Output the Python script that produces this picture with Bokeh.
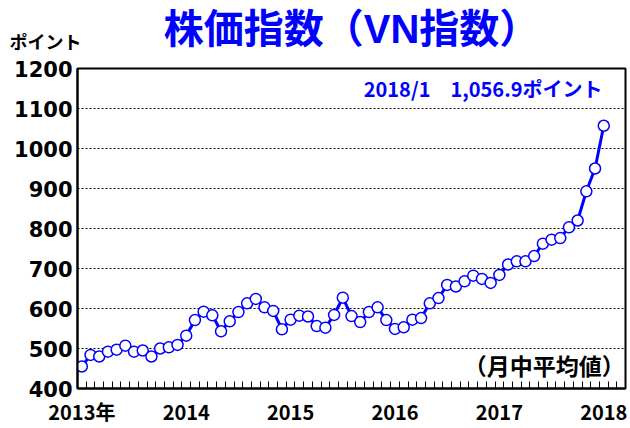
from bokeh.plotting import figure
from bokeh.models import Range1d, FixedTicker, Label, Title
from bokeh.embed import file_html
from bokeh.resources import INLINE

# ---- data (monthly averages, Jan 2013 .. Jan 2018) ----
vn_2013 = [455, 484, 480, 492, 497, 507, 492, 495, 480, 500, 503, 509]
vn_2014 = [532, 571, 592, 583, 543, 568, 591, 613, 624, 603, 594, 548]
vn_2015 = [572, 582, 580, 556, 552, 584, 627, 581, 566, 591, 603, 571]
vn_2016 = [549, 553, 572, 576, 613, 626, 659, 655, 668, 682, 674, 664]
vn_2017 = [684, 710, 718, 718, 731, 762, 772, 776, 803, 820, 893, 950]
latest_value = 1056.9
vn_2018 = [latest_value]
values = vn_2013 + vn_2014 + vn_2015 + vn_2016 + vn_2017 + vn_2018
month_index = list(range(len(values)))

year_positions = [0, 12, 24, 36, 48, 60]
year_labels = ["2013年", "2014", "2015", "2016", "2017", "2018"]
y_ticks = [400, 500, 600, 700, 800, 900, 1000, 1100, 1200]
grid_values = [500, 600, 700, 800, 900, 1000, 1100]
n_slots = 63

title_text = "株価指数（VN指数）"
unit_text = "ポイント"
note_text = "（月中平均値）"
latest_text = "2018/1　" + f"{latest_value:,.1f}" + "ポイント"

BLUE = "#0000ff"
JP = "Noto Sans CJK JP"
MIX = "Liberation Sans, Noto Sans CJK JP"
NUM = "DejaVu Sans"

p = figure(width=630, height=428, output_backend="svg", toolbar_location=None,
           x_range=Range1d(-0.5, n_slots - 0.5), y_range=Range1d(400, 1200),
           min_border_left=77, min_border_right=5, min_border_top=68, min_border_bottom=40)
p.background_fill_color = "white"
p.border_fill_color = "white"
p.outline_line_color = "black"
p.outline_line_width = 2
p.title.visible = False

p.xgrid.visible = False
p.ygrid.ticker = FixedTicker(ticks=grid_values)
p.ygrid.grid_line_color = "black"
p.ygrid.grid_line_dash = "2 2"
p.ygrid.grid_line_width = 1.2

ya = p.yaxis[0]
ya.ticker = FixedTicker(ticks=y_ticks)
ya.major_tick_line_color = None
ya.major_tick_out = 0
ya.minor_tick_line_color = None
ya.axis_line_color = "black"
ya.axis_line_width = 2
ya.major_label_standoff = 5
ya.major_label_text_font = NUM
ya.major_label_text_font_style = "bold"
ya.major_label_text_font_size = "21px"
ya.major_label_text_color = "black"

xa = p.xaxis[0]
xa.ticker = FixedTicker(ticks=year_positions, minor_ticks=[k + 0.5 for k in range(n_slots - 1)])
xa.major_label_overrides = {pos: lab for pos, lab in zip(year_positions, year_labels)}
xa.major_tick_line_color = None
xa.major_tick_out = 0
xa.major_tick_in = 0
xa.minor_tick_line_color = "black"
xa.minor_tick_line_width = 1
xa.minor_tick_in = 7
xa.minor_tick_out = 0
xa.axis_line_color = "black"
xa.axis_line_width = 2
xa.major_label_standoff = 8
xa.major_label_text_font = JP
xa.major_label_text_font_style = "bold"
xa.major_label_text_font_size = "20px"
xa.major_label_text_color = "black"

p.line(month_index, values, line_color=BLUE, line_width=3)
p.scatter(month_index, values, size=11, fill_color="white", line_color=BLUE, line_width=1.5)

# unit label (nearest the frame in the top panel), then the main title above it
p.add_layout(Label(x=45, y=42, x_units="canvas", y_units="canvas", text=unit_text,
                   text_align="center", text_baseline="middle",
                   text_font=MIX, text_font_style="bold", text_font_size="18px",
                   text_color="black"), "above")
main_title = Title(text=title_text, align="center", offset=-9, standoff=0,
                   text_font=MIX, text_font_style="bold", text_font_size="40px",
                   text_color=BLUE)
try:
    main_title.standoff = -5
except Exception:
    main_title.standoff = 0
p.add_layout(main_title, "above")

p.add_layout(Label(x=59.85, y=1150, text=latest_text, text_align="right", text_baseline="middle",
                   text_font=JP, text_font_style="bold", text_font_size="20px", text_color=BLUE))
p.add_layout(Label(x=62.4, y=458, text=note_text, text_align="right", text_baseline="middle",
                   text_font=JP, text_font_style="bold", text_font_size="23px", text_color="black"))

open("out.html", "w").write(file_html(p, INLINE))
